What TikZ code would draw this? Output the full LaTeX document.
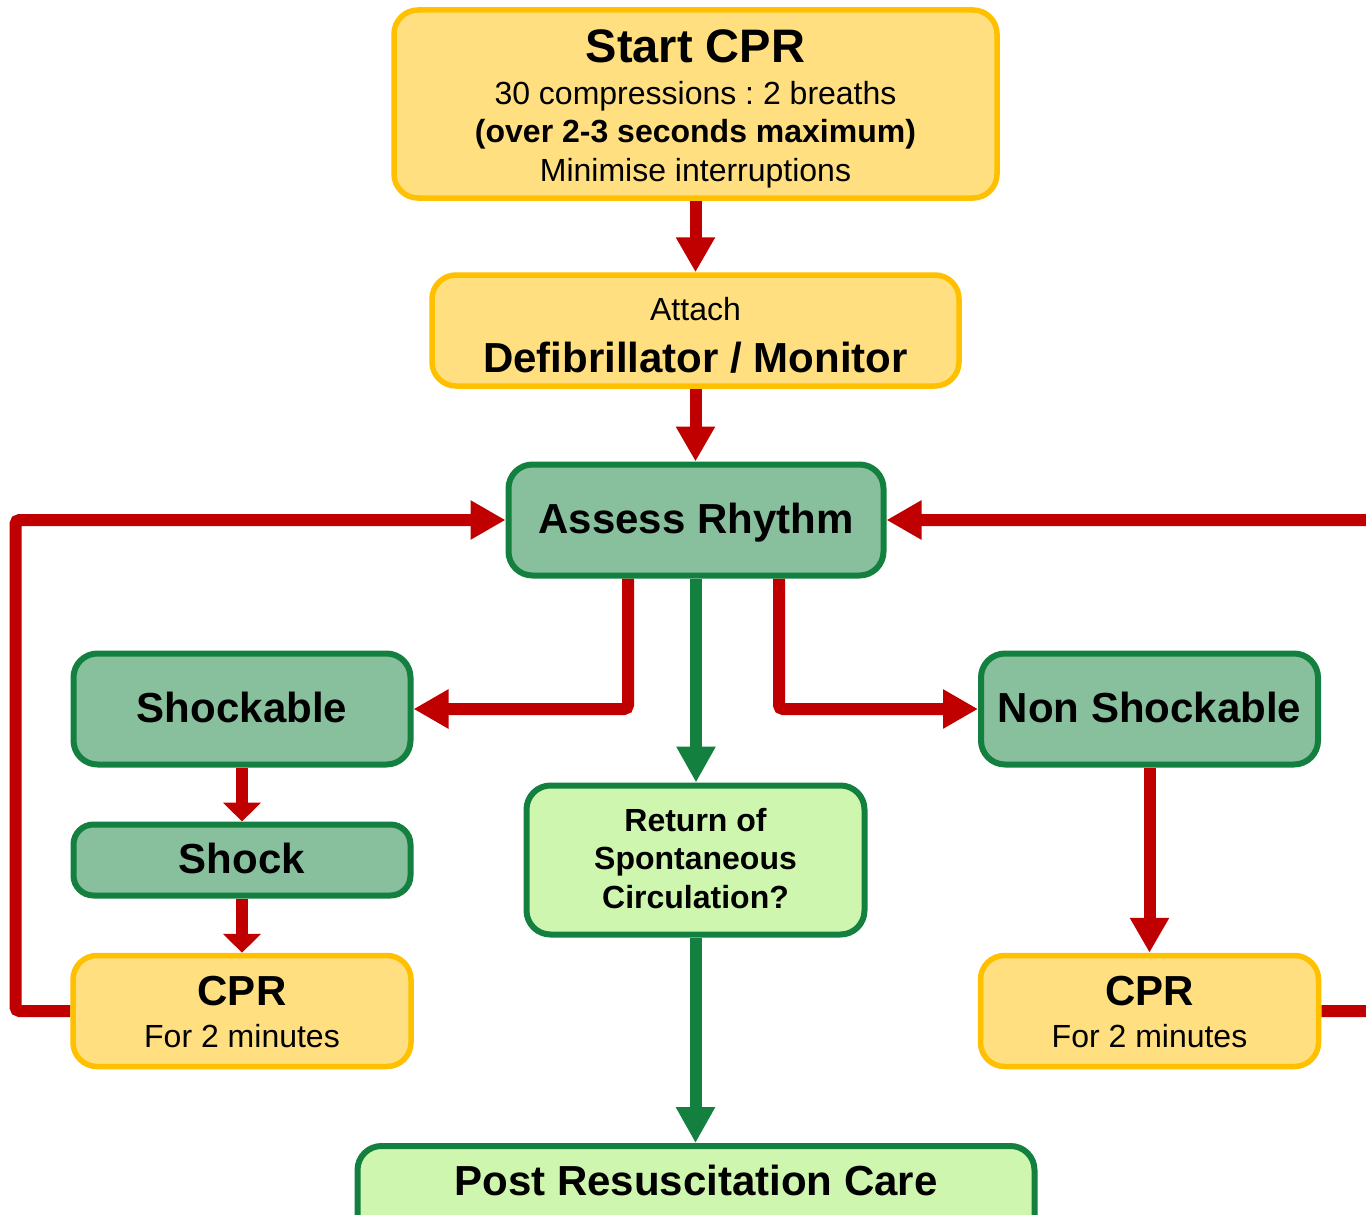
\documentclass[tikz,border=0pt]{standalone}
\usepackage{fontspec}
\setmainfont{Liberation Sans}
\usetikzlibrary{arrows.meta,backgrounds}
\definecolor{ybord}{HTML}{FFC000}
\definecolor{yfill}{HTML}{FFDF80}
\definecolor{gbord}{HTML}{138040}
\definecolor{gfill}{HTML}{88C09E}
\definecolor{lgfill}{HTML}{CFF6AE}
\definecolor{cred}{HTML}{C00000}
\frenchspacing
\begin{document}
\begin{tikzpicture}[x=1pt,y=-1pt,
  box/.style={rounded corners=24pt, inner sep=0pt, align=center, text=black},
  ybox/.style={box, draw=ybord, fill=yfill, line width=5.5pt},
  gbox/.style={box, draw=gbord, fill=gfill, line width=6pt},
  lgbox/.style={box, draw=gbord, fill=lgfill, line width=6pt},
  big/.style={font=\fontsize{42}{42}\selectfont\bfseries},
  oneline/.style={text height=30pt, text depth=4pt},
  redline/.style={draw=cred, line width=12pt},
  redarrow/.style={redline, rounded corners=4pt, -{Triangle[length=35pt,width=37pt]}},
  redshort/.style={redline, -{Triangle[length=19pt,width=37pt]}},
  greenarrow/.style={draw=gbord, line width=12pt, -{Triangle[length=36pt,width=37pt]}}
]
\useasboundingbox (0,0) rectangle (1366,1215);

\node[ybox, minimum width=603pt, minimum height=188pt,
      font=\fontsize{32}{38.5}\selectfont, text height=164pt, text depth=10pt]
  (start) at (695.5,104)
  {{\fontsize{47}{47}\selectfont\bfseries Start CPR}\\[3.5pt]30 compressions : 2 breaths\\\textbf{(over 2-3 seconds maximum)}\\Minimise interruptions};

\node[ybox, minimum width=527pt, minimum height=111pt,
      font=\fontsize{32}{38}\selectfont, text height=93pt, text depth=10pt]
  (attach) at (695.5,330.5)
  {Attach\\[13.5pt]{\fontsize{42}{42}\selectfont\bfseries Defibrillator / Monitor}};

\node[gbox, big, oneline, minimum width=375pt, minimum height=111pt]
  (assess) at (696,520) {Assess Rhythm};

\node[gbox, big, oneline, minimum width=337pt, minimum height=111pt]
  (shockable) at (242,709) {Shockable};

\node[gbox, big, oneline, minimum width=337pt, minimum height=111pt]
  (nonshock) at (1149.5,709) {Non Shockable};

\node[gbox, big, oneline, rounded corners=20pt, minimum width=337pt, minimum height=71pt]
  (shock) at (242,860) {Shock};

\node[ybox, minimum width=338pt, minimum height=111pt,
      font=\fontsize{32}{42}\selectfont, text height=82pt, text depth=10pt]
  (cprL) at (242,1011)
  {{\fontsize{42}{42}\selectfont\bfseries CPR}\\For 2 minutes};

\node[ybox, minimum width=338pt, minimum height=111pt,
      font=\fontsize{32}{42}\selectfont, text height=82pt, text depth=10pt]
  (cprR) at (1149.5,1011)
  {{\fontsize{42}{42}\selectfont\bfseries CPR}\\For 2 minutes};

\node[lgbox, minimum width=338pt, minimum height=149pt,
      font=\fontsize{32}{38.5}\selectfont\bfseries, text height=106pt, text depth=10pt]
  (rosc) at (695.5,860)
  {Return of\\Spontaneous\\Circulation?};

\node[lgbox, big, minimum width=677pt, minimum height=110pt,
      text height=30pt, text depth=42pt]
  (post) at (696,1201) {Post Resuscitation Care};

\coordinate (loopL) at (15.5,520);
\coordinate (loopR) at (1392,520);

\begin{scope}[on background layer]
  \fill[white] (0,0) rectangle (1366,1215);
  \draw[redarrow] (start.south) -- (attach.north);
  \draw[redarrow] (attach.south) -- (attach.south |- assess.north);
  \draw[redarrow] (cprL.west) -| (loopL) -- (assess.west);
  \draw[redarrow] (cprR.east) -| (loopR) -- (assess.east);
  \draw[redarrow] ([xshift=-68pt]assess.south) |- (shockable.east);
  \draw[redarrow] ([xshift=83pt]assess.south) |- (nonshock.west);
  \draw[greenarrow] (assess.south) -- (assess.south |- rosc.north);
  \draw[redshort] (shockable.south) -- (shock.north);
  \draw[redshort] (shock.south) -- (cprL.north);
  \draw[redarrow] (nonshock.south) -- (cprR.north);
  \draw[greenarrow] (rosc.south) -- (rosc.south |- post.north);
\end{scope}
\end{tikzpicture}
\end{document}
